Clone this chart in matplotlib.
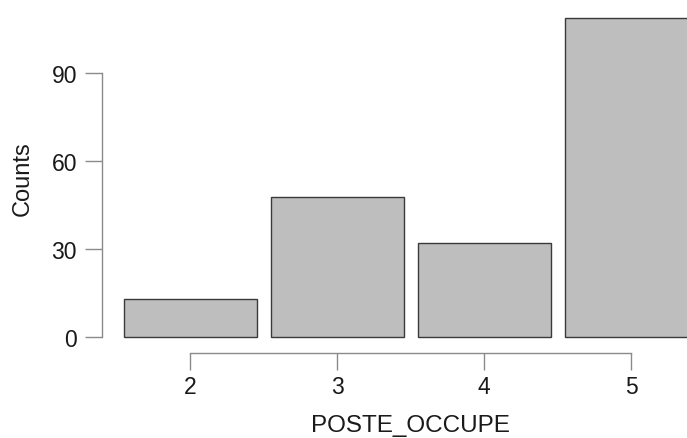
import matplotlib
matplotlib.use("Agg")
import matplotlib.pyplot as plt

categories = ["2", "3", "4", "5"]
counts = [13, 48, 32, 109]
yticks = [0, 30, 60, 90]

plt.rcParams['font.family'] = ['Liberation Sans', 'DejaVu Sans']

W, H = 687, 439
fig = plt.figure(figsize=(W / 100, H / 100), dpi=100)

# axes pixel box: left x=102, right x=687, bottom y=354, top y=0
ax = fig.add_axes([102 / W, (H - 354) / H, (W - 102) / W, 354 / H])

unit = (338.3 - 74.3) / 90.0  # px per count
ax.set_ylim(-(354 - 338.3) / unit, 338.3 / unit)
xs = [2, 3, 4, 5]
spacing = 147.0
ax.set_xlim(2 - (190.3 - 102) / spacing, 2 + (W - 190.3) / spacing)

ax.bar(xs, counts, width=0.905, color='#bebebe', edgecolor='#3a3a3a',
       linewidth=1.0, clip_on=True, zorder=2)

for s in ['top', 'right']:
    ax.spines[s].set_visible(False)
ax.spines['left'].set_bounds(0, 90)
ax.spines['bottom'].set_bounds(2, 5)
for s in ['left', 'bottom']:
    ax.spines[s].set_color('#8a8a8a')
    ax.spines[s].set_linewidth(1.0)

ax.set_yticks(yticks)
ax.set_yticklabels([str(v) for v in yticks])
ax.set_xticks(xs)
ax.set_xticklabels(categories)
ax.tick_params(axis='both', colors='#8a8a8a', length=12, width=1.0,
               labelsize=16.5, labelcolor='#1a1a1a')
ax.tick_params(axis='y', pad=6)
ax.tick_params(axis='x', pad=4)

ax.set_ylabel('Counts', fontsize=17, color='#1a1a1a')
ax.set_xlabel('POSTE_OCCUPE', fontsize=17.5, color='#1a1a1a')
ax.xaxis.set_label_coords((410.5 - 102) / (W - 102), -(426.5 - 354) / 354, transform=ax.transAxes)
ax.yaxis.set_label_coords(-(102 - 23) / (W - 102), (354 - 178.5) / 354, transform=ax.transAxes)
ax.xaxis.label.set_va('center')
ax.yaxis.label.set_va('center')

fig.savefig('out.png', dpi=100)
